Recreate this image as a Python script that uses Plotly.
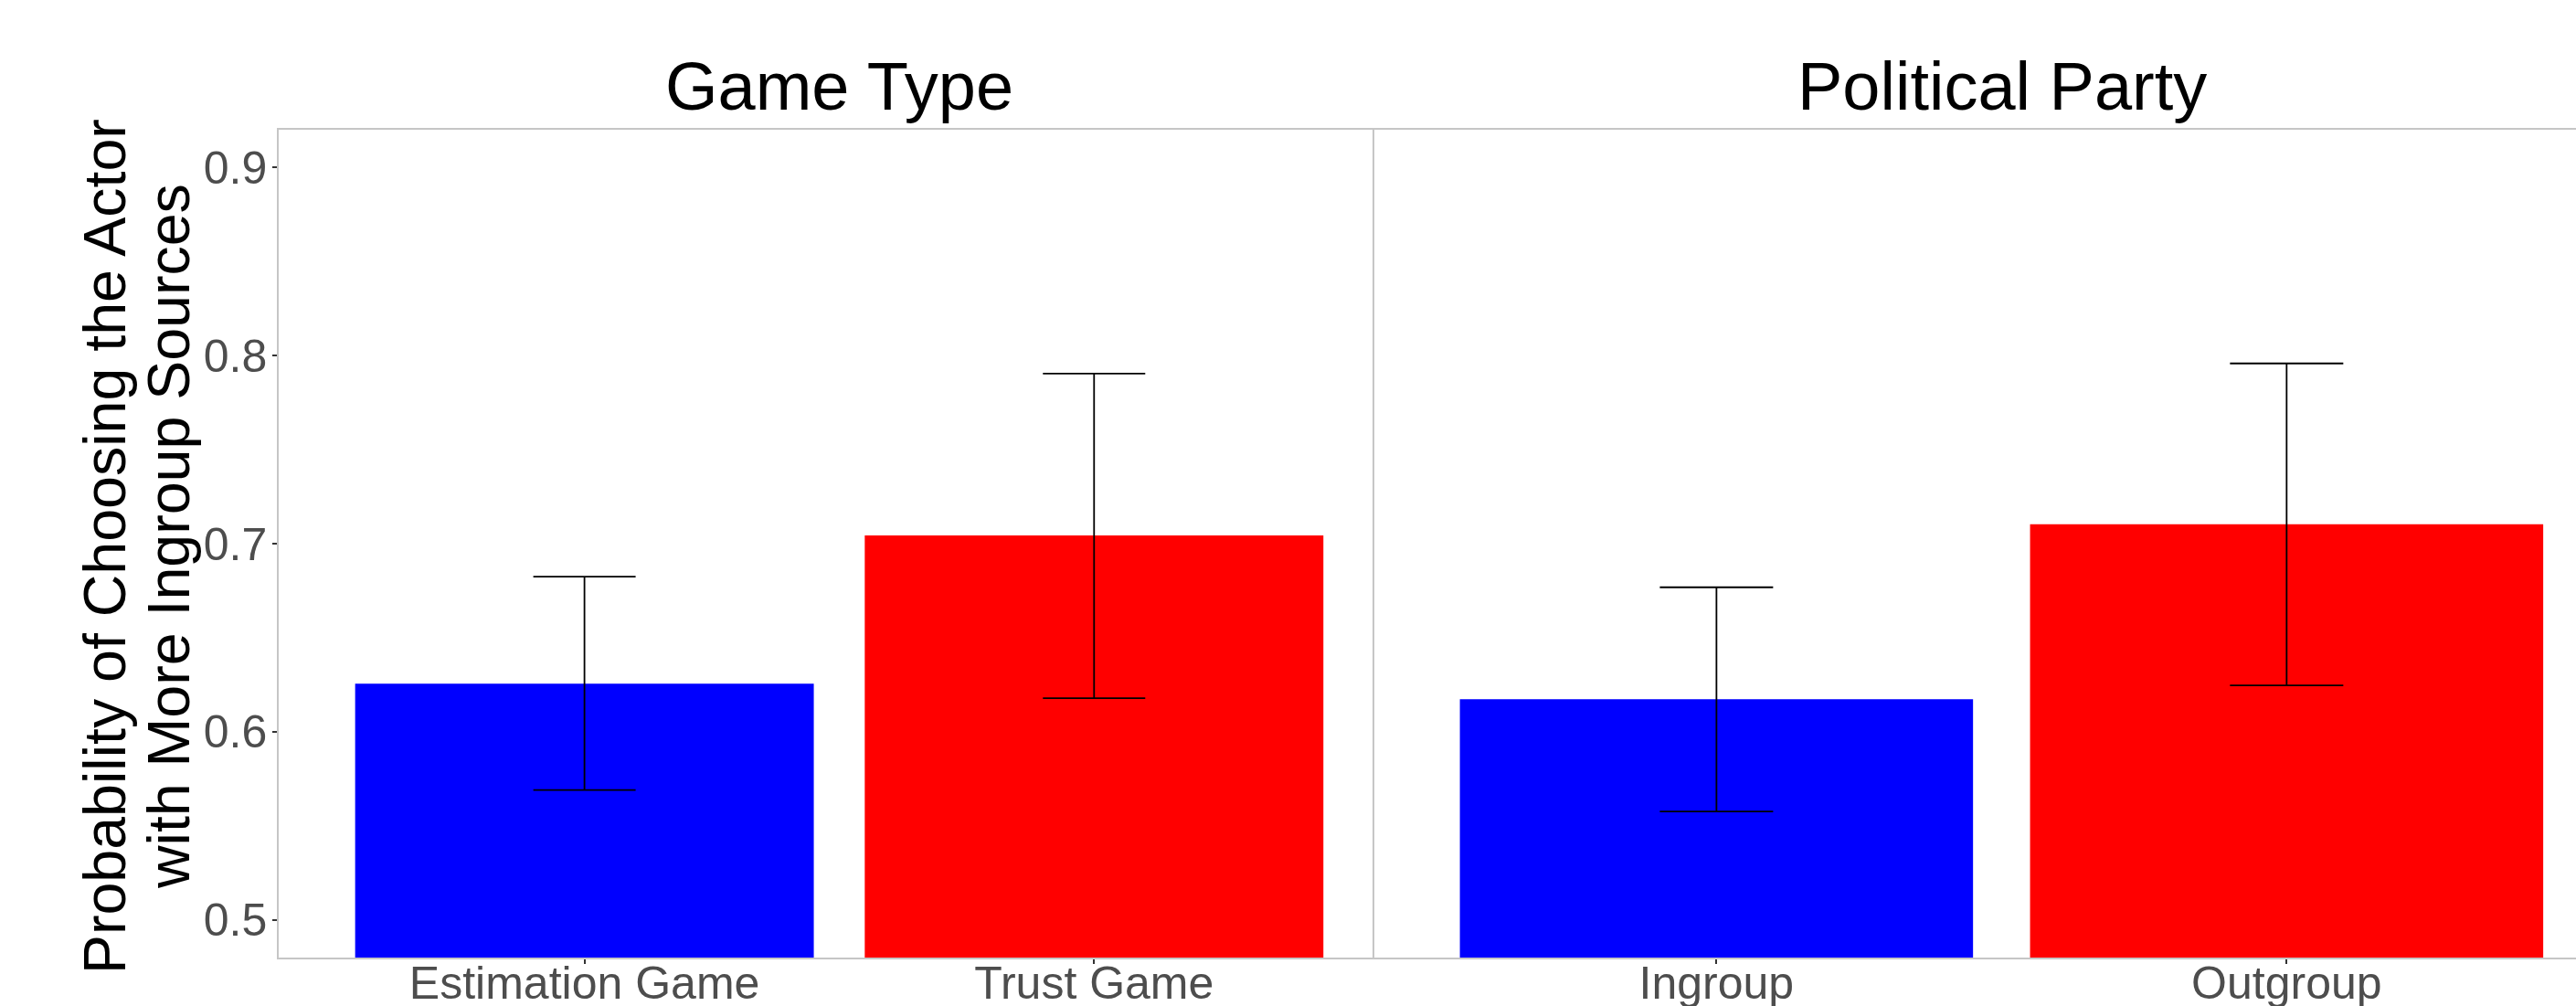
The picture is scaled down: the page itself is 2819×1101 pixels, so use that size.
import plotly.graph_objects as go

# Estimated probabilities with 95% interval bounds, one facet per grouping
game_types = ["Estimation Game", "Trust Game"]
game_prob = [0.6256, 0.7044]
game_lower = [0.5691, 0.6179]
game_upper = [0.6825, 0.7904]

party_groups = ["Ingroup", "Outgroup"]
party_prob = [0.6173, 0.7103]
party_lower = [0.5576, 0.6247]
party_upper = [0.6768, 0.7958]

facet_titles = ["Game Type", "Political Party"]
bar_colors = ["#0000FF", "#FF0000"]
y_ticks = [0.5, 0.6, 0.7, 0.8, 0.9]
y_title_lines = ["Probability of Choosing the Actor", "with More Ingroup Sources"]

FONT = "Liberation Sans, Arial, Helvetica, sans-serif"
W, H = 2819, 1101
ML, MR, MT, MB = 305, 0, 142, 53
plot_w = W - ML - MR
plot_h = H - MT - MB
split = (1504 - ML) / plot_w  # boundary between the two facets


def px_x(px):
    return (px - ML) / plot_w


def px_y(py):
    return (H - MB - py) / plot_h


def bar_trace(cats, vals, lo, hi, xa, ya, cap):
    return go.Bar(
        x=list(range(len(cats))),
        y=vals,
        width=0.9,
        marker=dict(color=bar_colors, line=dict(width=0)),
        error_y=dict(
            type="data",
            symmetric=False,
            array=[h - v for h, v in zip(hi, vals)],
            arrayminus=[v - l for v, l in zip(vals, lo)],
            color="black",
            thickness=1.8,
            width=cap,
        ),
        xaxis=xa,
        yaxis=ya,
        showlegend=False,
        hoverinfo="skip",
    )


fig = go.Figure()
fig.add_trace(bar_trace(game_types, game_prob, game_lower, game_upper, "x", "y", 56))
fig.add_trace(bar_trace(party_groups, party_prob, party_lower, party_upper, "x2", "y2", 62))

line_col = "#c6c6c6"
tick_font = dict(family=FONT, size=50, color="#4d4d4d")
common_x = dict(
    showline=True, linecolor=line_col, linewidth=1.5, mirror=True,
    showgrid=False, zeroline=False, automargin=False,
    ticks="outside", ticklen=5, tickwidth=1.5, tickcolor="#333333",
    tickfont=tick_font, ticklabelstandoff=-22, fixedrange=True,
)
common_y = dict(
    range=[0.48, 0.92], showline=True, linecolor=line_col, linewidth=1.5,
    showgrid=False, zeroline=False, fixedrange=True, automargin=False,
)

fig.update_layout(
    width=W, height=H,
    margin=dict(l=ML, r=MR, t=MT, b=MB, pad=0, autoexpand=False),
    paper_bgcolor="white", plot_bgcolor="white",
    font=dict(family=FONT),
    xaxis=dict(domain=[0, split], range=[-0.6, 1.55], anchor="y",
               tickvals=[0, 1], ticktext=game_types, **common_x),
    xaxis2=dict(domain=[split, 1], range=[-0.6, 1.5075], anchor="y2",
                tickvals=[0, 1], ticktext=party_groups, **common_x),
    yaxis=dict(domain=[0, 1], anchor="x", tickvals=y_ticks,
               ticktext=[f"{v:.1f}" for v in y_ticks],
               ticks="outside", ticklen=5, tickwidth=1.5, tickcolor="#333333",
               ticklabelstandoff=-4,
               tickfont=dict(family=FONT, size=50, color="#4d4d4d"), **common_y),
    yaxis2=dict(domain=[0, 1], anchor="x2", showticklabels=False, ticks="", **common_y),
)

# Facet strip titles
for title, cx in zip(facet_titles, [918, 2191]):
    fig.add_annotation(text=title, x=px_x(cx), y=px_y(138), xref="paper", yref="paper",
                       xanchor="center", yanchor="bottom", showarrow=False,
                       font=dict(family=FONT, size=74, color="black"))

# Two-line rotated y-axis title
for line, cx, cy in zip(y_title_lines, [115, 185], [598, 587]):
    fig.add_annotation(text=line, x=px_x(cx), y=px_y(cy), xref="paper", yref="paper",
                       xanchor="center", yanchor="middle", textangle=-90, showarrow=False,
                       font=dict(family=FONT, size=64.5, color="black"))

fig.write_html("out.html")
